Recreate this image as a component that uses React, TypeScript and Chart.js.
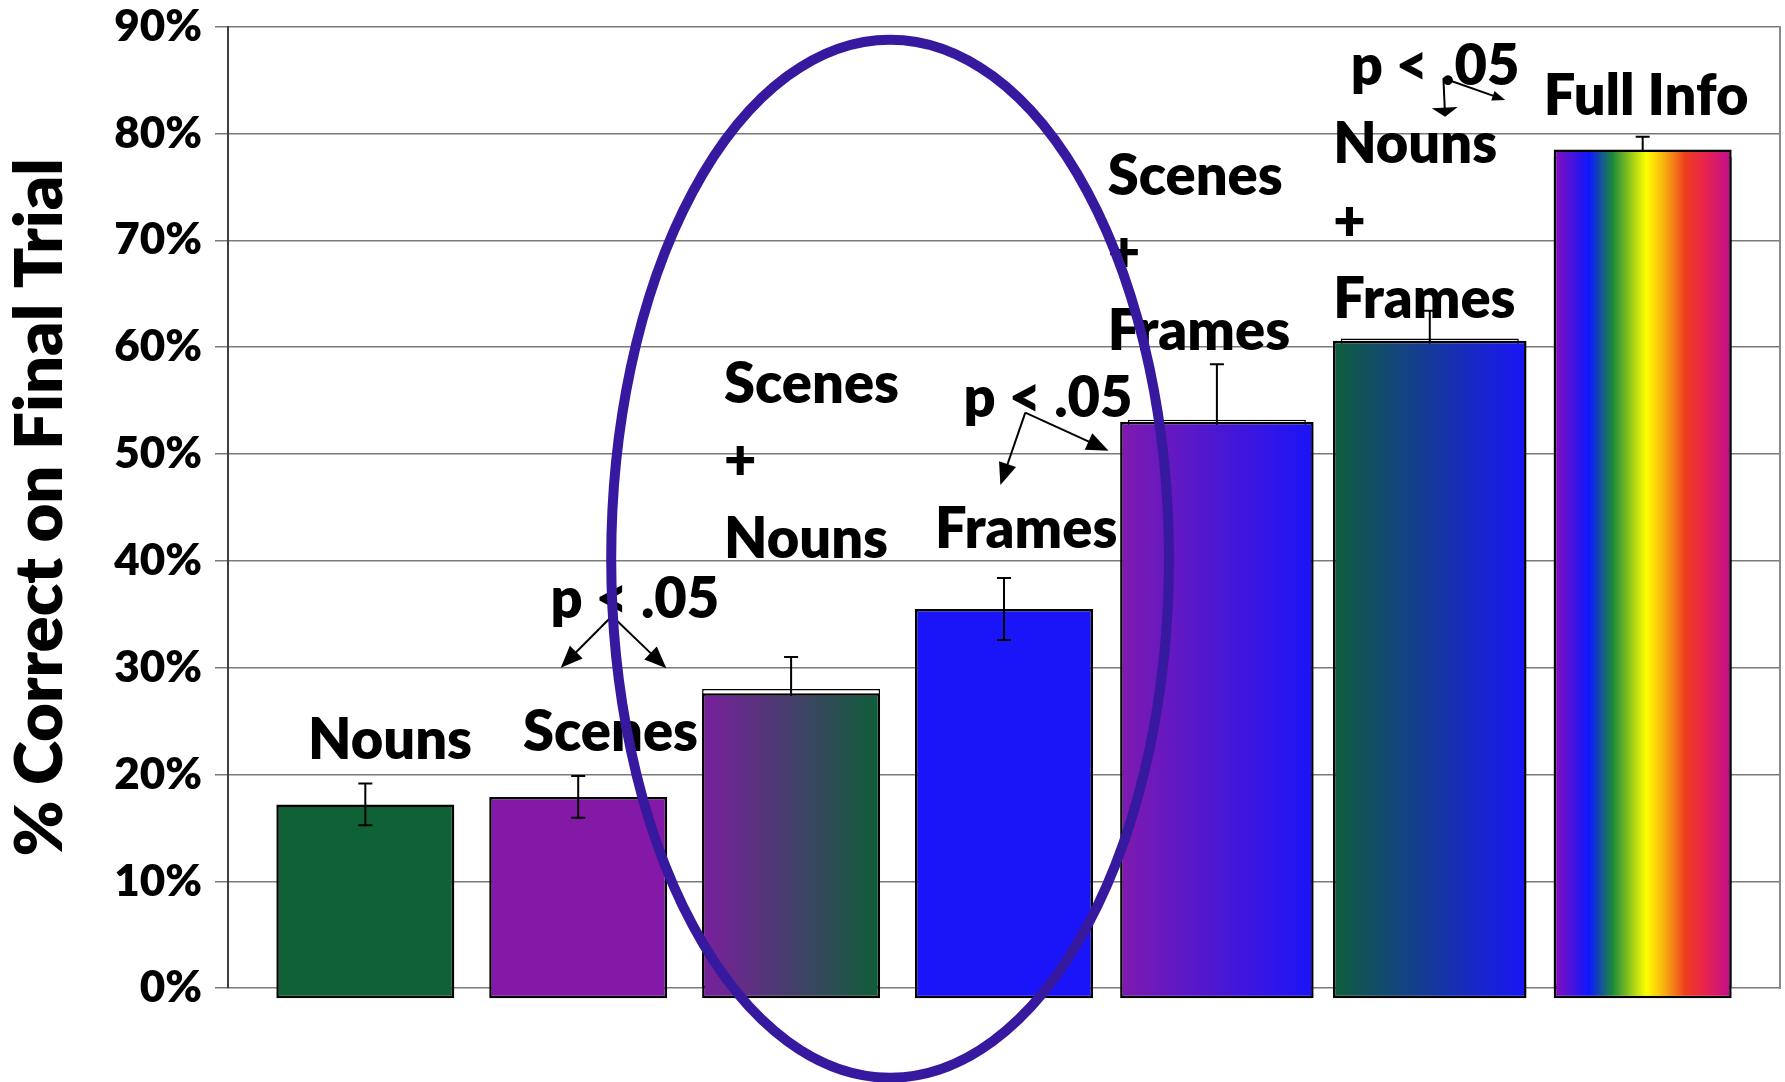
import React, { useEffect, useRef } from "react";
import { Chart, registerables } from "chart.js";

Chart.register(...registerables);

const FONT = "Lato, 'Open Sans', sans-serif";
const WEIGHT = 800;

// values (percent correct on final trial)
const categories = [
  "Nouns",
  "Scenes",
  "Scenes + Nouns",
  "Frames",
  "Scenes + Frames",
  "Nouns + Frames",
  "Full Info",
];
const scores = [17.2, 17.9, 27.6, 35.5, 53.0, 60.6, 78.5];
// the white outlined series that sits behind some of the bars
const underlay: (number | null)[] = [null, null, 28.0, null, 53.2, 60.8, 77.8];
const errors = [1.95, 1.95, 3.0, 2.9, 5.2, 2.6, 1.9];
const wideBars = [false, false, false, false, true, true, false];
const yTicks = [0, 10, 20, 30, 40, 50, 60, 70, 80, 90];

// bar fills: [offset, colour] stops of a left-to-right gradient
const fills: [number, string][][] = [
  [[0, "#0f6236"]],
  [[0, "#8419a8"]],
  [[0, "#7a1f9e"], [1, "#0f5e38"]],
  [[0, "#1a14f8"]],
  [[0, "#7f1aae"], [1, "#1a14f8"]],
  [[0, "#0f5e3c"], [1, "#1a14f8"]],
  [
    [0, "#8a0cb8"],
    [0.2, "#0c18ff"],
    [0.33, "#1a8a3a"],
    [0.52, "#ffff00"],
    [0.62, "#f8b010"],
    [0.74, "#ee3d1e"],
    [0.85, "#e8244f"],
    [1, "#c00c90"],
  ],
];

// text annotations, in data units (x = category index, y = percent)
const barLabels = [
  { lines: ["Nouns"], x: 0.116, y: 21.48, align: "center" },
  { lines: ["Scenes"], x: 1.152, y: 22.2, align: "center" },
  { lines: ["Scenes", "+", "Nouns"], x: 1.685, y: 54.77, align: "left" },
  { lines: ["Frames"], x: 3.104, y: 41.23, align: "center" },
  { lines: ["Scenes", "+", "Frames"], x: 3.487, y: 74.24, align: "left" },
  { lines: ["Nouns", "+", "Frames"], x: 4.546, y: 77.21, align: "left" },
  { lines: ["Full Info"], x: 6.016, y: 81.73, align: "center" },
];

const significance = [
  {
    x: 1.266,
    y: 34.65,
    from: [1.159, 34.84],
    to: [
      [0.918, 30.0],
      [1.414, 29.94],
    ],
    heads: [
      [22, 18],
      [22, 18],
    ],
  },
  {
    x: 3.207,
    y: 53.44,
    from: [3.1, 53.87],
    to: [
      [2.983, 47.1],
      [3.491, 50.31],
    ],
    heads: [
      [22, 18],
      [22, 18],
    ],
  },
  {
    x: 5.025,
    y: 84.54,
    from: [5.064, 85.16],
    to: [
      [5.072, 81.57],
      [5.354, 83.13],
    ],
    heads: [
      [9, 26],
      [13, 10],
    ],
  },
];

// the hand-drawn ellipse round the middle bars
const highlight = { x: 2.465, y: 40.2, rx: 1.31, ry: 48.58 };

const NARROW = 0.836;
const WIDE = 0.909;

const barFill = (pct: number) => (context: any) => {
  const raw = context.raw;
  if (!raw) return "#000";
  const stops = fills[raw.x];
  if (stops.length === 1) return stops[0][1];
  const xs = context.chart.scales.x;
  if (!xs) return stops[0][1];
  const unit = xs.getPixelForValue(1) - xs.getPixelForValue(0);
  const c = xs.getPixelForValue(raw.x);
  const x0 = c - (unit * pct) / 2;
  const x1 = c + (unit * pct) / 2;
  if (!Number.isFinite(x0) || !Number.isFinite(x1) || x1 <= x0) return stops[0][1];
  const g = context.chart.ctx.createLinearGradient(x0, 0, x1, 0);
  stops.forEach(([o, col]) => g.addColorStop(o, col));
  return g;
};

const points = (values: (number | null)[], keep: (i: number) => boolean) =>
  values
    .map((v, i) => ({ x: i, y: v }))
    .filter((p) => p.y !== null && keep(p.x));

const errorBars = {
  id: "errorBars",
  afterDatasetDraw(chart: any, args: any) {
    const ds = chart.data.datasets[args.index];
    if (!ds.errorBars) return;
    const { ctx } = chart;
    const y = chart.scales.y;
    ctx.save();
    ctx.strokeStyle = "#000";
    ctx.lineWidth = 2;
    args.meta.data.forEach((bar: any, j: number) => {
      const p = ds.data[j];
      const e = ds.errorBars[p.x];
      if (e == null) return;
      const top = y.getPixelForValue(p.y + e);
      const bottom = y.getPixelForValue(p.y - e);
      ctx.beginPath();
      ctx.moveTo(bar.x, top);
      ctx.lineTo(bar.x, bottom);
      ctx.moveTo(bar.x - 7, top);
      ctx.lineTo(bar.x + 7, top);
      ctx.moveTo(bar.x - 7, bottom);
      ctx.lineTo(bar.x + 7, bottom);
      ctx.stroke();
    });
    ctx.restore();
  },
};

function arrow(
  ctx: CanvasRenderingContext2D,
  x0: number,
  y0: number,
  x1: number,
  y1: number,
  len: number,
  wid: number,
) {
  const a = Math.atan2(y1 - y0, x1 - x0);
  const cos = Math.cos(a);
  const sin = Math.sin(a);
  ctx.beginPath();
  ctx.moveTo(x0, y0);
  ctx.lineTo(x1 - cos * len * 0.6, y1 - sin * len * 0.6);
  ctx.stroke();
  ctx.beginPath();
  ctx.moveTo(x1, y1);
  ctx.lineTo(x1 - cos * len + (sin * wid) / 2, y1 - sin * len - (cos * wid) / 2);
  ctx.lineTo(x1 - cos * len - (sin * wid) / 2, y1 - sin * len + (cos * wid) / 2);
  ctx.closePath();
  ctx.fill();
}

const annotations = {
  id: "annotations",
  afterDraw(chart: any) {
    const { ctx } = chart;
    const xs = chart.scales.x;
    const ys = chart.scales.y;
    const px = (v: number) => xs.getPixelForValue(v);
    const py = (v: number) => ys.getPixelForValue(v);
    ctx.save();
    ctx.fillStyle = "#000";
    ctx.strokeStyle = "#000";
    ctx.font = `${WEIGHT} 56px ${FONT}`;
    ctx.textBaseline = "alphabetic";

    barLabels.forEach((l) => {
      ctx.textAlign = l.align;
      l.lines.forEach((line, k) => {
        ctx.fillText(line, px(l.x), py(l.y) + k * 77.3);
      });
    });

    ctx.lineWidth = 2;
    significance.forEach((s) => {
      ctx.textAlign = "center";
      ctx.fillText("p < .05", px(s.x), py(s.y));
      s.to.forEach((t, k) => {
        arrow(
          ctx,
          px(s.from[0]),
          py(s.from[1]),
          px(t[0]),
          py(t[1]),
          s.heads[k][0],
          s.heads[k][1],
        );
      });
    });

    const cx = px(highlight.x);
    const cy = py(highlight.y);
    const rx = px(highlight.x + highlight.rx) - cx;
    const ry = cy - py(highlight.y + highlight.ry);
    ctx.beginPath();
    ctx.ellipse(cx, cy, rx, ry, 0, 0, Math.PI * 2);
    ctx.strokeStyle = "#3719a0";
    ctx.lineWidth = 10;
    ctx.stroke();
    ctx.restore();
  },
};

export default function App() {
  const canvasRef = useRef<HTMLCanvasElement>(null);

  useEffect(() => {
    document.body.style.margin = "0";
    const ctx = canvasRef.current?.getContext("2d");
    if (!ctx) return;

    const chart = new Chart(ctx, {
      type: "bar",
      data: {
        datasets: [
          {
            label: "underlay",
            data: points(underlay, () => true) as any,
            backgroundColor: "#ffffff",
            borderColor: "#000000",
            borderWidth: 1.5,
            borderSkipped: false,
            grouped: false,
            categoryPercentage: 1,
            barPercentage: NARROW,
            order: 3,
            errorBars: errors.map((e, i) => (underlay[i] !== null ? e : null)),
          } as any,
          {
            label: "scores",
            data: points(scores, (i) => !wideBars[i]) as any,
            backgroundColor: barFill(NARROW),
            borderColor: "#000000",
            borderWidth: 2.5,
            borderSkipped: false,
            base: -0.945,
            clip: false,
            grouped: false,
            categoryPercentage: 1,
            barPercentage: NARROW,
            order: 1,
            errorBars: errors.map((e, i) => (underlay[i] === null ? e : null)),
          } as any,
          {
            label: "scores (wide)",
            data: points(scores, (i) => wideBars[i]) as any,
            backgroundColor: barFill(WIDE),
            borderColor: "#000000",
            borderWidth: 2.5,
            borderSkipped: false,
            base: -0.945,
            clip: false,
            grouped: false,
            categoryPercentage: 1,
            barPercentage: WIDE,
            order: 1,
          } as any,
        ],
      },
      options: {
        animation: false,
        responsive: true,
        maintainAspectRatio: false,
        layout: { padding: { left: 0, right: 5, top: 0, bottom: 93.8 } },
        plugins: {
          legend: { display: false },
          tooltip: { enabled: false },
        },
        scales: {
          x: {
            type: "linear",
            min: -0.645,
            max: categories.length - 1 + 0.645,
            offset: false,
            display: false,
            grid: { offset: false },
            afterBuildTicks: (scale: any) => {
              scale.ticks = categories.map((_, i) => ({ value: i }));
            },
          },
          y: {
            min: 0,
            max: 90,
            afterBuildTicks: (scale: any) => {
              scale.ticks = yTicks.map((v) => ({ value: v }));
            },
            afterFit: (scale: any) => {
              scale.width = 228;
              scale.paddingTop = 26.6;
              scale.paddingBottom = 0;
            },
            ticks: {
              color: "#000",
              padding: 13,
              font: { family: FONT, size: 44, weight: WEIGHT },
              callback: (v: any) => `${v}%`,
            },
            grid: { color: "#7a7a7a", lineWidth: 1.5, tickLength: 13 },
            border: { color: "#404040", width: 2 },
            title: {
              display: true,
              text: "% Correct on Final Trial",
              color: "#000",
              padding: 0,
              font: { family: FONT, size: 67, weight: WEIGHT },
            },
          },
          y2: {
            position: "right",
            display: true,
            ticks: { display: false },
            grid: { display: false, drawTicks: false },
            border: { color: "#8a8a8a", width: 2 },
          },
        },
      } as any,
      plugins: [errorBars, annotations],
    });

    return () => {
      chart.destroy();
    };
  }, []);

  return (
    <div style={{ position: "relative", width: 1785, height: 1082, background: "#fff" }}>
      <canvas ref={canvasRef}></canvas>
    </div>
  );
}
